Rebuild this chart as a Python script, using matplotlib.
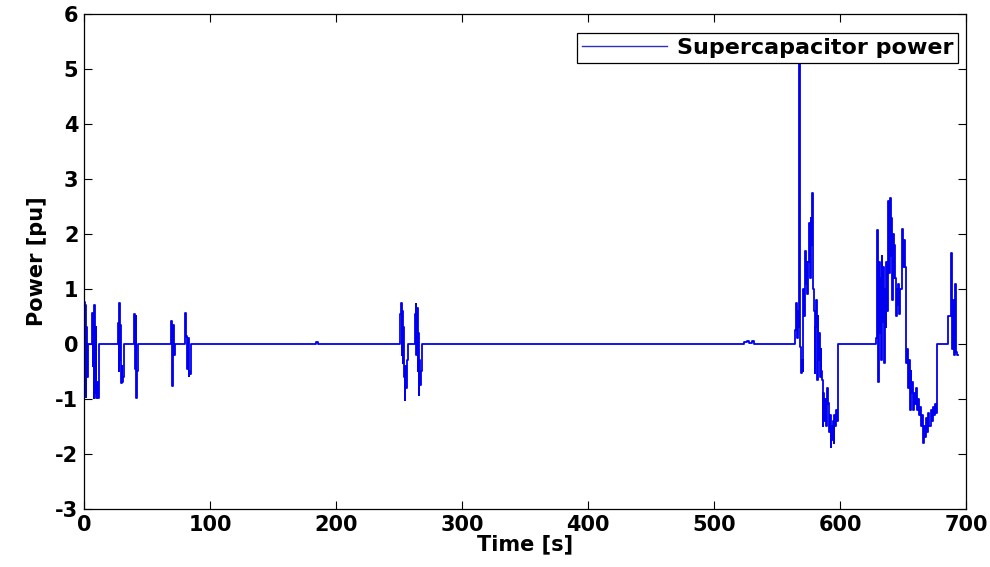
import numpy as np
import matplotlib
matplotlib.use("Agg")
import matplotlib.pyplot as plt

plt.rcParams['font.family'] = ['DejaVu Sans']
plt.rcParams['font.weight'] = 'bold'
plt.rcParams['axes.unicode_minus'] = False

# bursts of supercapacitor power (time [s], power [pu])
t_left = [0.0, 0.5, 1.0, 1.5, 2.0, 2.5, 3.0,
          6.3, 6.8, 7.3, 7.8, 8.3, 8.8, 9.3, 9.8, 10.3, 10.8, 11.6,
          27.0, 27.5, 28.0, 28.5, 29.0, 29.5, 30.0, 30.5, 31.0, 31.5,
          40.0, 40.5, 41.0, 41.5, 42.0, 43.0,
          68.8, 69.5, 70.2, 70.9, 71.5, 72.2,
          80.0, 80.6, 81.2, 81.8, 82.4, 83.0, 83.6, 84.2, 84.7]
p_left = [0.77, -0.56, 0.7, -0.96, 0.3, -0.6, 0.0,
          0.56, -0.4, 0.55, -0.98, 0.71, -0.9, 0.3, -0.98, -0.7, -0.98, 0.0,
          0.38, -0.5, 0.74, -0.3, 0.35, -0.71, -0.4, -0.7, -0.6, 0.0,
          0.55, -0.45, 0.5, -0.98, -0.5, 0.0,
          0.42, 0.38, -0.76, 0.35, -0.2, 0.0,
          0.57, 0.13, 0.15, -0.45, 0.1, -0.58, -0.5, -0.55, 0.0]

t_mid = [184.5, 185.5,
         251.0, 251.5, 252.0, 252.5, 253.0, 253.5, 254.0, 254.5, 255.0, 255.5, 256.0, 257.0,
         262.7, 263.2, 263.7, 264.2, 264.7, 265.2, 265.7, 266.2, 266.7, 267.2, 268.0,
         524.0, 526.0, 528.0, 530.0, 532.0]
p_mid = [0.04, 0.0,
         0.55, 0.74, -0.2, 0.6, -0.35, 0.3, -0.6, -1.02, -0.4, -0.8, -0.3, 0.0,
         0.55, 0.73, -0.2, 0.65, -0.5, 0.2, -0.93, -0.3, -0.75, -0.5, 0.0,
         0.03, 0.05, 0.02, 0.06, 0.0]

t_right1 = [564.3, 565.0, 565.7, 566.4, 567.0, 567.5,
            568.3, 569.0, 569.7, 570.3,
            571.0, 571.6, 572.2, 572.8, 573.4, 574.0, 574.5,
            574.9, 575.5, 576.1, 576.7, 577.3, 577.9, 578.5,
            579.2, 579.8, 580.4,
            581.0, 581.6, 582.2, 582.8, 583.4, 584.0, 584.6, 585.1,
            585.5, 586.1, 586.7, 587.3, 587.9, 588.5, 589.1, 589.7, 590.3,
            590.8, 591.4, 592.0, 592.6, 593.2, 593.8, 594.4, 595.0, 595.6,
            596.2, 597.0, 597.8, 598.7]
p_right1 = [0.25, 0.75, 0.1, 0.6, 0.3, 5.5,
            -0.05, -0.53, -0.3, -0.5,
            1.0, 0.5, 1.7, 1.1, 1.5, 0.9, 1.3,
            1.5, 2.2, 1.2, 2.3, 1.8, 2.74, 1.0,
            0.6, -0.53, 0.3,
            0.8, -0.65, 0.5, -0.3, 0.2, -0.6, -0.1, -0.5,
            -0.65, -1.5, -0.9, -1.4, -1.0, -1.2, -1.5, -0.8, -1.1,
            -1.07, -1.6, -1.3, -1.87, -1.5, -1.75, -1.4, -1.8, -1.3,
            -1.5, -1.2, -1.4, 0.0]

t_right2 = [628.8, 629.6, 630.2, 630.8, 631.4, 632.0, 632.6,
            633.1, 633.7, 634.3, 634.9, 635.5, 636.1, 636.7, 637.3, 637.9,
            638.4, 639.0, 639.6, 640.2, 640.8, 641.4, 642.0, 642.6, 643.2,
            643.7, 644.3, 644.9, 645.5, 646.1, 646.7, 647.3, 647.9,
            649.0, 649.7, 650.4, 651.2,
            652.5, 653.2, 653.9, 654.6, 655.3, 656.0, 656.7,
            657.4, 658.2, 659.0, 659.8, 660.6, 661.4,
            662.2, 663.0, 663.8, 664.6, 665.4, 666.2, 667.0, 667.8, 668.6,
            669.4, 670.2, 671.0, 671.8, 672.6, 673.4, 674.2, 675.0, 675.8, 676.7]
p_right2 = [0.1, 2.07, -0.7, 1.5, 0.2, 1.2, -0.3,
            1.6, 0.4, 1.4, -0.35, 1.0, 0.3, 1.5, 0.6, 1.2,
            2.6, 1.3, 2.65, 1.6, 2.3, 0.8, 2.0, 1.2, 1.8,
            1.2, 0.5, 1.0, 0.7, 1.1, 0.55, 0.9, 1.0,
            2.1, 1.4, 1.9, 1.4,
            -0.35, -0.1, -0.8, -0.3, -1.2, -0.5, -0.9,
            -0.7, -1.2, -0.9, -1.1, -0.8, -1.2,
            -1.0, -1.3, -1.15, -1.5, -1.3, -1.8, -1.5, -1.7, -1.35,
            -1.6, -1.25, -1.5, -1.2, -1.4, -1.15, -1.3, -1.1, -1.25, 0.0]

t_right3 = [686.0, 688.1, 688.6, 689.2, 689.8, 690.4, 691.0, 691.6, 692.2, 692.8, 693.5]
p_right3 = [0.5, 1.65, 1.0, -0.1, 0.8, -0.2, 1.0, 1.1, -0.15, -0.2, -0.2]

t = np.concatenate([t_left, t_mid, t_right1, t_right2, t_right3])
p = np.concatenate([p_left, p_mid, p_right1, p_right2, p_right3])

fig = plt.figure(figsize=(9.9, 5.67), dpi=100)
ax = fig.add_axes([0.0848, 0.1023, 0.891, 0.873])

ax.plot(t, p, color='#0000ee', lw=1.3, drawstyle='steps-post', label='Supercapacitor power')

ax.set_xlim(0, 700)
ax.set_ylim(-3, 6)
ax.set_xticks(range(0, 701, 100))
ax.set_yticks(range(-3, 7))
ax.tick_params(direction='in', top=True, right=True, labelsize=15, length=6, width=0.8, pad=4)
for lab in ax.get_xticklabels() + ax.get_yticklabels():
    lab.set_fontweight('bold')
for s in ax.spines.values():
    s.set_linewidth(0.9)

ax.set_xlabel('Time [s]', fontsize=15, fontweight='bold', labelpad=0)
ax.set_ylabel('Power [pu]', fontsize=15, fontweight='bold', labelpad=6)

leg = ax.legend(loc='upper right', bbox_to_anchor=(0.991, 0.962), borderaxespad=0,
                fancybox=False, framealpha=1, edgecolor='black', handlelength=3.8,
                prop={'size': 16, 'weight': 'bold'}, borderpad=0.22, handletextpad=0.45)
leg.get_frame().set_linewidth(0.9)
leg.get_lines()[0].set_color('#3030c0')
leg.get_lines()[0].set_linewidth(1.0)

fig.savefig('out.png', dpi=100)
